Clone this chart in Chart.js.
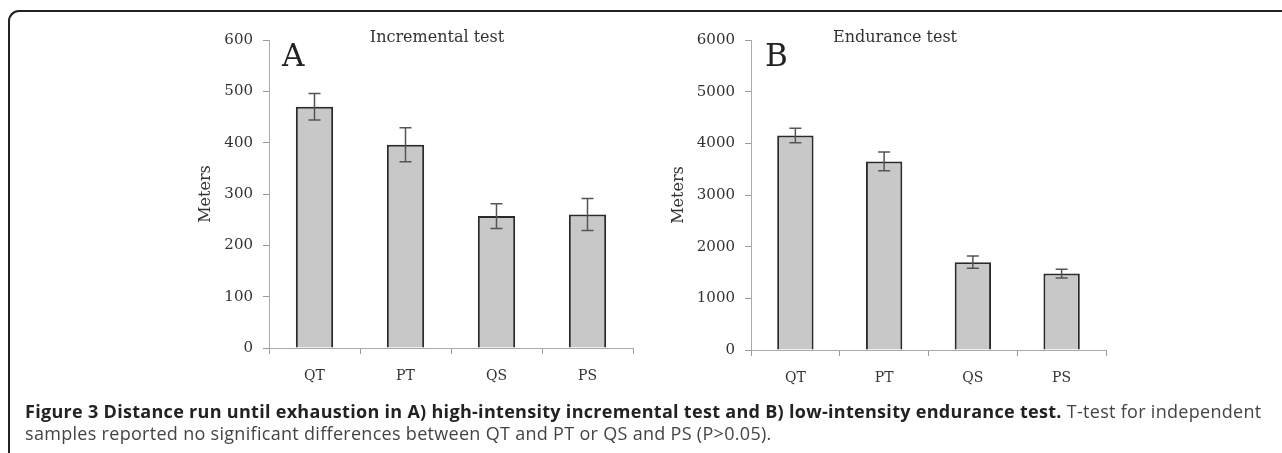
<!DOCTYPE html>
<html>
<head>
<meta charset="utf-8">
<script src="https://cdn.jsdelivr.net/npm/chart.js@4/dist/chart.umd.min.js"></script>
<style>
  body { margin: 0; background: #fff; }
  #page { position: relative; width: 1282px; height: 453px; overflow: hidden; background: #fff; }
  #frame {
    position: absolute; left: 8px; top: 10px; width: 1300px; height: 470px;
    border-top: 2px solid #222; border-left: 2px solid #222; border-top-left-radius: 11px;
  }
  .panel { position: absolute; top: 0; height: 400px; }
  #caption {
    position: absolute; left: 25px; top: 400px; width: 1252px;
    font-family: "Open Sans", sans-serif; font-size: 18px; line-height: 22px;
    letter-spacing: 0.3px; color: #444; white-space: nowrap;
  }
  #caption b { color: #222; }
</style>
</head>
<body>
<div id="page">
  <div id="frame"></div>
  <div class="panel" style="left:180px;width:470px;"><canvas id="incChart"></canvas></div>
  <div class="panel" style="left:660px;width:466px;"><canvas id="endChart"></canvas></div>
  <div id="caption"><b>Figure 3 Distance run until exhaustion in A) high-intensity incremental test and B) low-intensity endurance test.</b> T-test for independent<br>samples reported no significant differences between QT and PT or QS and PS (P&gt;0.05).</div>
</div>
<script>
// 数据
const categories = ['QT', 'PT', 'QS', 'PS'];
const incrementalMeans = [470, 396, 257, 260];
const incrementalErr = [26, 33, 24, 31];
const enduranceMeans = [4150, 3650, 1700, 1480];
const enduranceErr = [140, 180, 120, 85];

const serif = '"DejaVu Serif", serif';

// 误差线
const errorBarPlugin = {
    id: 'errorBars',
    afterDatasetsDraw(chart) {
        const errs = chart.options.plugins.errorBars.errors;
        const yScale = chart.scales.y;
        const meta = chart.getDatasetMeta(0);
        const ctx = chart.ctx;
        ctx.save();
        ctx.strokeStyle = '#555';
        ctx.lineWidth = 1.5;
        meta.data.forEach((bar, i) => {
            const v = chart.data.datasets[0].data[i];
            const top = yScale.getPixelForValue(v + errs[i]);
            const bottom = yScale.getPixelForValue(v - errs[i]);
            ctx.beginPath();
            ctx.moveTo(bar.x, top); ctx.lineTo(bar.x, bottom);
            ctx.moveTo(bar.x - 6, top); ctx.lineTo(bar.x + 6, top);
            ctx.moveTo(bar.x - 6, bottom); ctx.lineTo(bar.x + 6, bottom);
            ctx.stroke();
        });
        ctx.restore();
    }
};

// 面板字母和标题
const panelTextPlugin = {
    id: 'panelText',
    afterDraw(chart) {
        const o = chart.options.plugins.panelText;
        const area = chart.chartArea;
        const ctx = chart.ctx;
        ctx.save();
        ctx.fillStyle = '#222';
        ctx.textBaseline = 'alphabetic';
        ctx.font = '31px ' + serif;
        ctx.textAlign = 'left';
        ctx.fillText(o.letter, area.left + o.letterDx, 66);
        ctx.font = '16px ' + serif;
        ctx.fillStyle = '#333';
        ctx.textAlign = 'center';
        ctx.fillText(o.title, area.left + o.titleDx, 42);
        ctx.restore();
    }
};

function makeChart(id, means, errs, maxVal, step, opts) {
    const ctx = document.getElementById(id).getContext('2d');
    return new Chart(ctx, {
        type: 'bar',
        data: {
            labels: categories,
            datasets: [{
                data: means,
                backgroundColor: '#c8c8c8',
                borderColor: '#2a2a2a',
                borderWidth: 2,
                categoryPercentage: 1,
                barPercentage: 0.41
            }]
        },
        options: {
            responsive: true,
            maintainAspectRatio: false,
            animation: false,
            layout: { padding: { left: opts.padL, right: opts.padR, top: 40, bottom: 0 } },
            plugins: {
                legend: { display: false },
                tooltip: { enabled: false },
                errorBars: { errors: errs },
                panelText: opts.text
            },
            scales: {
                x: {
                    offset: true,
                    grid: { offset: true, drawOnChartArea: false, drawTicks: true, tickLength: 6, color: '#999' },
                    border: { color: '#aaa', width: 1 },
                    ticks: { color: '#333', padding: 14, font: { family: serif, size: 14 } },
                    afterFit(scale) { scale.height = opts.xHeight; }
                },
                y: {
                    min: 0,
                    max: maxVal,
                    ticks: {
                        stepSize: step, color: '#333', padding: 10,
                        font: { family: serif, size: 15 },
                        callback: v => String(v)
                    },
                    grid: { drawOnChartArea: false, drawTicks: true, tickLength: 6, color: '#999' },
                    border: { color: '#aaa', width: 1 },
                    title: { display: true, text: 'Meters', color: '#333', font: { family: serif, size: 16 }, padding: { top: 4, bottom: 4 } },
                    afterFit(scale) { scale.width = opts.yWidth; }
                }
            }
        },
        plugins: [errorBarPlugin, panelTextPlugin]
    });
}

makeChart('incChart', incrementalMeans, incrementalErr, 600, 100, {
    padL: 12, padR: 17, yWidth: 77, xHeight: 52,
    text: { letter: 'A', letterDx: 13, title: 'Incremental test', titleDx: 168 }
});
makeChart('endChart', enduranceMeans, enduranceErr, 6000, 1000, {
    padL: 5, padR: 20, yWidth: 86, xHeight: 50,
    text: { letter: 'B', letterDx: 14, title: 'Endurance test', titleDx: 144 }
});
</script>
</body>
</html>
